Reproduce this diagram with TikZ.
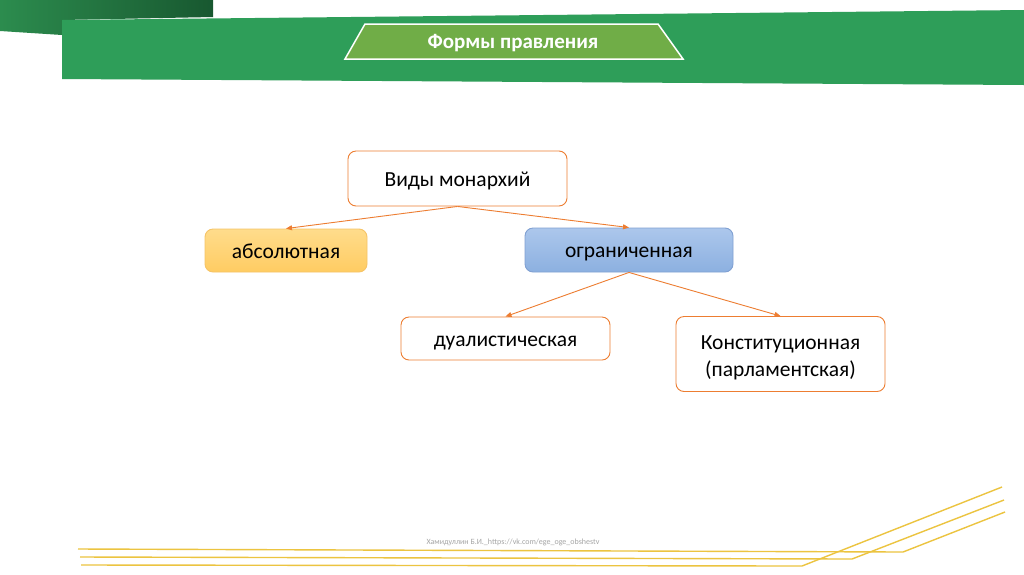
\documentclass[tikz,border=0pt]{standalone}
\usepackage{fontspec}
\setmainfont{Carlito}
\usetikzlibrary{arrows.meta}
\definecolor{band}{RGB}{46,158,89}
\definecolor{ribbonL}{RGB}{44,140,78}
\definecolor{ribbonR}{RGB}{24,88,48}
\definecolor{titlegreen}{RGB}{112,173,71}
\definecolor{acc}{RGB}{237,125,49}
\definecolor{absTop}{RGB}{255,220,140}
\definecolor{absBot}{RGB}{255,204,98}
\definecolor{absLine}{RGB}{246,196,103}
\definecolor{ogrTop}{RGB}{172,199,236}
\definecolor{ogrBot}{RGB}{140,176,224}
\definecolor{ogrLine}{RGB}{128,160,210}
\definecolor{gold}{RGB}{236,196,64}
\definecolor{foot}{RGB}{165,165,165}
\tikzset{
  boxbase/.style={rounded corners=8pt, align=center, inner sep=0pt,
    font=\fontsize{21.5}{27}\selectfont, text=black},
  oneline/.style={text height=15pt, text depth=0pt},
  whitebox/.style={boxbase, draw=acc, line width=0.9pt, fill=white},
  absbox/.style={boxbase, oneline, draw=absLine, line width=0.9pt, top color=absTop, bottom color=absBot},
  ogrbox/.style={boxbase, oneline, draw=ogrLine, line width=0.9pt, top color=ogrTop, bottom color=ogrBot},
  conn/.style={draw=acc, line width=0.9pt, -{Triangle[length=6pt,width=5pt]}},
  goldline/.style={draw=gold, line width=1.4pt, line join=round}
}
\begin{document}
\begin{tikzpicture}[x=1pt,y=-1pt]
\useasboundingbox (0,0) rectangle (1024,574);
\fill[white] (0,0) rectangle (1024,574);
% top-left dark ribbon
\shade[left color=ribbonL, right color=ribbonR] (0,0) -- (213,0) -- (213,17) -- (62,20) -- (62,35) -- (0,31) -- cycle;
% main green band
\fill[band] (62,20) -- (1024,10) -- (1024,85) -- (62,79) -- cycle;
% title trapezoid
\draw[white, line width=1.5pt, fill=titlegreen] (365,24) -- (658,24) -- (683,59) -- (345,59) -- cycle;
\node[font=\fontsize{21}{24}\selectfont\bfseries, text=white] (title) at (513,43) {Формы правления};
% boxes
\node[whitebox, oneline, minimum width=219pt, minimum height=55pt] (vidy) at (457.5,178.5) {Виды монархий};
\node[absbox, minimum width=162pt, minimum height=43pt] (abs) at (286,250.5) {абсолютная};
\node[ogrbox, minimum width=208pt, minimum height=44pt] (ogr) at (629,250) {ограниченная};
\node[whitebox, oneline, minimum width=209pt, minimum height=43pt] (dual) at (505.5,338.5) {дуалистическая};
\node[whitebox, minimum width=209pt, minimum height=75pt] (konst) at (780.5,354)
  {\raisebox{-3.5pt}[\height][\depth]{\begin{tabular}{@{}c@{}}Конституционная\\(парламентская)\end{tabular}}};
% connectors
\draw[conn] (vidy.south) -- (abs.north);
\draw[conn] (vidy.south) -- (ogr.north);
\draw[conn] (ogr.south) -- (dual.north);
\draw[conn] (ogr.south) -- (konst.north);
% footer
\node[font=\fontsize{8}{9}\selectfont, text=foot] (footer) at (513,542) {Хамидуллин Б.И.\_https://vk.com/ege\_oge\_obshestv};
% gold lines
\draw[goldline] (78,549) -- (903,552) -- (1005,512);
\draw[goldline] (80,557) -- (852,559) -- (1004,500);
\draw[goldline] (81,565) -- (802,566) -- (1002,487);
\end{tikzpicture}
\end{document}
